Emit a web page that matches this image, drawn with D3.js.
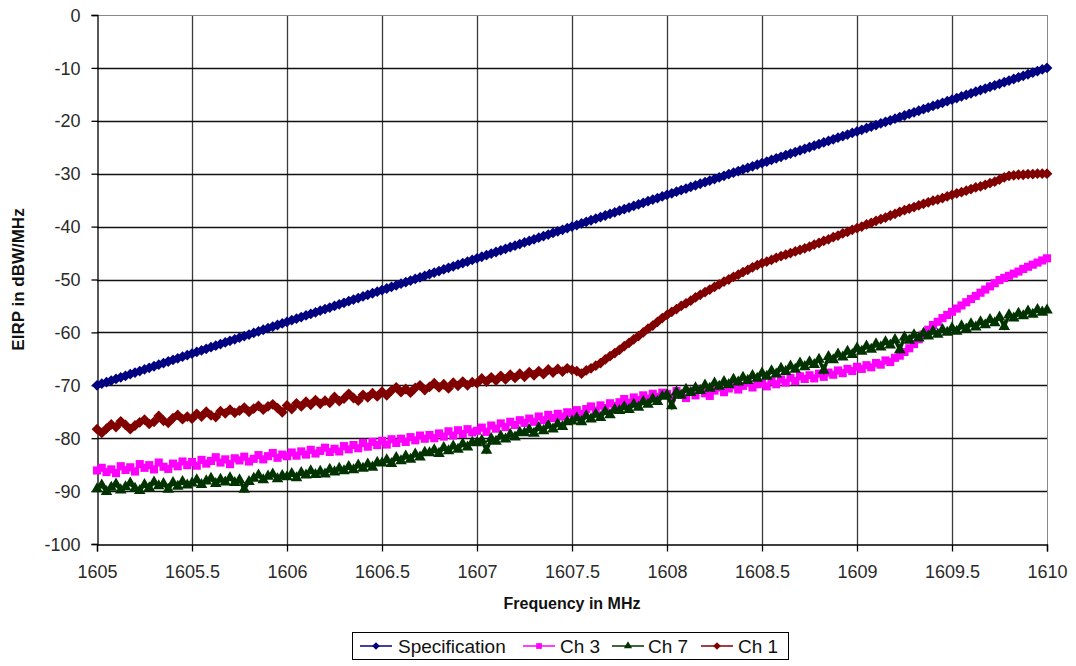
<!DOCTYPE html>
<html><head><meta charset="utf-8">
<script src="https://cdn.jsdelivr.net/npm/d3@7"></script>
<style>
html,body{margin:0;padding:0;background:#fff;}
svg{display:block;}
text{font-family:"Liberation Sans",Arial,sans-serif;}
</style></head>
<body><svg id="c" width="1076" height="666"></svg>
<script>
// ---- data ----
const freqStart = 1605, freqEnd = 1610, nPoints = 201;
const xTicks = [1605, 1605.5, 1606, 1606.5, 1607, 1607.5, 1608, 1608.5, 1609, 1609.5, 1610];
const xTickLabels = ["1605","1605.5","1606","1606.5","1607","1607.5","1608","1608.5","1609","1609.5","1610"];
const yTicks = [0,-10,-20,-30,-40,-50,-60,-70,-80,-90,-100];
const yTickLabels = ["0","-10","-20","-30","-40","-50","-60","-70","-80","-90","-100"];
const seriesNames = ["Specification","Ch 3","Ch 7","Ch 1"];

const specValues = [
-70,-69.7,-69.4,-69.1,-68.8,-68.5,-68.2,-67.9,-67.6,-67.3,
-67,-66.7,-66.4,-66.1,-65.8,-65.5,-65.2,-64.9,-64.6,-64.3,
-64,-63.7,-63.4,-63.1,-62.8,-62.5,-62.2,-61.9,-61.6,-61.3,
-61,-60.7,-60.4,-60.1,-59.8,-59.5,-59.2,-58.9,-58.6,-58.3,
-58,-57.7,-57.4,-57.1,-56.8,-56.5,-56.2,-55.9,-55.6,-55.3,
-55,-54.7,-54.4,-54.1,-53.8,-53.5,-53.2,-52.9,-52.6,-52.3,
-52,-51.7,-51.4,-51.1,-50.8,-50.5,-50.2,-49.9,-49.6,-49.3,
-49,-48.7,-48.4,-48.1,-47.8,-47.5,-47.2,-46.9,-46.6,-46.3,
-46,-45.7,-45.4,-45.1,-44.8,-44.5,-44.2,-43.9,-43.6,-43.3,
-43,-42.7,-42.4,-42.1,-41.8,-41.5,-41.2,-40.9,-40.6,-40.3,
-40,-39.7,-39.4,-39.1,-38.8,-38.5,-38.2,-37.9,-37.6,-37.3,
-37,-36.7,-36.4,-36.1,-35.8,-35.5,-35.2,-34.9,-34.6,-34.3,
-34,-33.7,-33.4,-33.1,-32.8,-32.5,-32.2,-31.9,-31.6,-31.3,
-31,-30.7,-30.4,-30.1,-29.8,-29.5,-29.2,-28.9,-28.6,-28.3,
-28,-27.7,-27.4,-27.1,-26.8,-26.5,-26.2,-25.9,-25.6,-25.3,
-25,-24.7,-24.4,-24.1,-23.8,-23.5,-23.2,-22.9,-22.6,-22.3,
-22,-21.7,-21.4,-21.1,-20.8,-20.5,-20.2,-19.9,-19.6,-19.3,
-19,-18.7,-18.4,-18.1,-17.8,-17.5,-17.2,-16.9,-16.6,-16.3,
-16,-15.7,-15.4,-15.1,-14.8,-14.5,-14.2,-13.9,-13.6,-13.3,
-13,-12.7,-12.4,-12.1,-11.8,-11.5,-11.2,-10.9,-10.6,-10.3,
-10];

const ch3Values = [
-86.1,-85.6,-86.4,-85.9,-86.6,-85.3,-86.0,-85.5,-86.3,-84.9,
-85.6,-85.1,-85.9,-84.6,-85.4,-85.8,-84.8,-85.3,-84.4,-85.1,
-84.5,-85.2,-84.1,-84.8,-84.3,-83.6,-84.6,-84.0,-84.9,-83.8,
-84.2,-83.5,-84.4,-83.9,-83.2,-84.0,-83.4,-82.8,-83.7,-83.1,
-83.4,-82.7,-83.3,-82.5,-83.1,-82.2,-82.9,-82.4,-81.8,-82.6,
-82.0,-82.5,-81.5,-82.1,-81.3,-81.9,-80.9,-81.6,-80.7,-81.3,
-80.5,-81.2,-80.2,-80.9,-80.1,-80.7,-79.8,-80.4,-79.5,-80.1,
-79.4,-80.0,-79.1,-79.7,-78.7,-79.5,-78.5,-79.2,-78.3,-78.9,
-78.6,-78.0,-78.8,-77.6,-78.2,-77.2,-77.9,-76.9,-77.5,-76.6,
-77.1,-76.3,-76.9,-75.9,-76.6,-75.6,-76.2,-75.4,-75.9,-75.1,
-75.3,-74.7,-75.4,-74.5,-74.0,-74.8,-73.8,-74.3,-73.4,-73.9,
-73.2,-72.6,-73.3,-72.3,-72.8,-71.9,-72.5,-71.6,-72.2,-71.4,
-71.6,-72.3,-71.1,-71.8,-72.4,-71.2,-71.9,-70.8,-71.5,-72.0,
-71.0,-70.4,-71.3,-70.6,-70.0,-70.8,-70.1,-69.5,-70.4,-69.8,
-69.6,-70.2,-69.2,-69.8,-68.9,-69.5,-68.6,-69.2,-68.3,-68.8,
-68.1,-68.7,-67.8,-68.4,-67.6,-68.0,-67.2,-67.7,-66.9,-67.3,
-66.5,-66.9,-66.2,-66.6,-65.8,-66.1,-65.3,-65.6,-64.8,-64.4,
-63.7,-63.0,-62.2,-61.3,-60.4,-59.5,-58.6,-58.0,-57.3,-56.7,
-56.1,-55.5,-54.9,-54.3,-53.7,-53.1,-52.5,-51.9,-51.3,-50.7,
-50.1,-49.7,-49.3,-48.9,-48.5,-48.0,-47.6,-47.2,-46.8,-46.4,
-46.0];

const ch7Values = [
-89.6,-88.9,-90.1,-89.3,-88.7,-89.8,-89.2,-88.5,-89.5,-89.9,
-88.8,-89.4,-88.3,-89.0,-88.6,-89.7,-88.4,-89.1,-88.2,-88.9,
-88.5,-87.9,-88.8,-88.1,-87.6,-88.6,-87.8,-88.3,-87.5,-88.4,
-87.9,-89.7,-88.2,-87.6,-87.0,-87.9,-87.2,-86.8,-87.7,-87.1,
-87.3,-86.7,-87.5,-86.5,-87.0,-86.2,-86.9,-86.3,-86.8,-85.9,
-86.4,-85.7,-86.2,-85.4,-86.0,-85.1,-85.7,-84.9,-85.5,-84.6,
-84.7,-84.1,-84.8,-83.7,-84.3,-83.4,-84.0,-83.0,-83.6,-82.7,
-82.8,-82.2,-82.9,-81.8,-82.4,-81.5,-82.1,-81.1,-81.7,-80.8,
-80.9,-80.4,-82.3,-80.1,-80.6,-79.6,-80.2,-79.3,-79.8,-78.9,
-79.0,-78.4,-79.1,-78.0,-78.6,-77.6,-78.3,-77.3,-77.8,-76.9,
-76.8,-76.2,-76.9,-75.8,-76.4,-75.5,-76.1,-75.0,-75.6,-74.6,
-74.8,-74.1,-74.6,-73.6,-74.2,-73.1,-73.6,-72.6,-73.1,-72.1,
-71.8,-73.9,-71.3,-71.9,-70.8,-71.4,-70.5,-71.0,-70.0,-70.6,
-69.6,-70.2,-69.3,-69.9,-68.9,-69.4,-68.5,-69.1,-68.2,-68.7,
-67.7,-68.3,-67.3,-67.9,-66.8,-67.4,-66.4,-67.0,-65.8,-66.5,
-65.6,-66.1,-65.1,-67.2,-64.6,-65.2,-64.1,-64.7,-63.6,-64.2,
-63.0,-63.6,-62.6,-63.2,-62.2,-62.8,-61.8,-62.4,-61.4,-63.3,
-60.9,-61.5,-60.5,-61.1,-60.2,-60.7,-59.8,-60.4,-59.5,-60.0,
-59.2,-59.8,-58.8,-59.4,-58.4,-59.0,-58.0,-58.6,-57.6,-58.2,
-57.1,-58.9,-56.7,-57.3,-56.4,-56.9,-56.0,-56.6,-55.7,-56.2,
-55.8];

const ch1Values = [
-78.3,-79.0,-78.2,-77.4,-77.9,-76.8,-77.5,-78.3,-77.6,-77.0,
-76.5,-77.3,-76.9,-75.8,-76.7,-77.1,-76.2,-75.6,-76.4,-75.9,
-76.3,-75.4,-75.9,-75.0,-75.7,-76.0,-74.9,-75.3,-74.6,-75.2,
-74.8,-74.2,-75.0,-74.4,-73.9,-74.6,-74.0,-73.6,-74.3,-75.1,
-73.8,-74.5,-73.4,-74.0,-73.1,-73.7,-72.8,-73.5,-72.9,-73.3,
-72.2,-73.0,-72.5,-71.6,-72.4,-72.9,-71.8,-72.3,-71.5,-72.1,
-71.2,-71.9,-71.0,-70.4,-71.3,-70.7,-71.4,-70.5,-70.0,-70.9,
-70.3,-69.6,-70.4,-69.8,-70.6,-69.5,-70.1,-69.3,-70.0,-69.4,
-69.6,-68.7,-69.3,-68.5,-69.1,-68.2,-68.9,-68.0,-68.6,-67.8,
-68.4,-67.5,-68.1,-67.3,-67.9,-67.0,-67.6,-66.9,-67.4,-66.8,
-67.1,-67.3,-67.8,-67.2,-66.8,-66.3,-65.8,-65.1,-64.5,-63.9,
-63.3,-62.6,-62.0,-61.3,-60.7,-60.0,-59.3,-58.7,-58.0,-57.3,
-56.7,-56.1,-55.6,-55.0,-54.5,-54.0,-53.4,-52.9,-52.4,-51.9,
-51.4,-50.9,-50.4,-50.0,-49.5,-49.1,-48.6,-48.2,-47.7,-47.3,
-46.9,-46.6,-46.3,-45.9,-45.6,-45.3,-45.0,-44.7,-44.4,-44.1,
-43.8,-43.4,-43.1,-42.7,-42.4,-42.0,-41.7,-41.3,-41.0,-40.6,
-40.3,-40.0,-39.6,-39.3,-38.9,-38.6,-38.3,-37.9,-37.6,-37.2,
-36.9,-36.6,-36.3,-36.0,-35.7,-35.4,-35.1,-34.9,-34.6,-34.3,
-34.0,-33.7,-33.5,-33.2,-32.9,-32.6,-32.4,-32.1,-31.8,-31.5,
-31.1,-30.7,-30.4,-30.3,-30.2,-30.2,-30.1,-30.1,-30.0,-30.0,
-30.0];

// ---- layout / style ----
const plot = {left: 97, right: 1047, top: 15, bottom: 544};
const frequencies = d3.range(nPoints).map(i => freqStart + i * (freqEnd - freqStart) / (nPoints - 1));

const series = [
  {name: seriesNames[0], values: specValues, color: "#000080", symbol: "diamond"},
  {name: seriesNames[1], values: ch3Values,  color: "#FF00FF", symbol: "square"},
  {name: seriesNames[2], values: ch7Values,  color: "#003300", symbol: "triangle"},
  {name: seriesNames[3], values: ch1Values,  color: "#800000", symbol: "diamond"}
];

const svg = d3.select("#c");
const x = d3.scaleLinear().domain([freqStart, freqEnd]).range([plot.left, plot.right]);
const y = d3.scaleLinear().domain([-100, 0]).range([plot.bottom, plot.top]);

// gridlines
const g = svg.append("g");
g.selectAll(".vg").data(xTicks.slice(1, -1)).enter().append("line")
  .attr("x1", d => Math.round(x(d)) + 0.5).attr("x2", d => Math.round(x(d)) + 0.5)
  .attr("y1", plot.top).attr("y2", plot.bottom)
  .attr("stroke", "#3a3a3a").attr("stroke-width", 1.3);
g.selectAll(".hg").data(yTicks.slice(1, -1)).enter().append("line")
  .attr("x1", plot.left).attr("x2", plot.right)
  .attr("y1", d => Math.round(y(d)) + 0.5).attr("y2", d => Math.round(y(d)) + 0.5)
  .attr("stroke", "#111").attr("stroke-width", 1.3);
g.append("line").attr("x1", plot.left).attr("x2", plot.right).attr("y1", plot.top + 0.5).attr("y2", plot.top + 0.5)
  .attr("stroke", "#888").attr("stroke-width", 1);
g.append("line").attr("x1", plot.right + 0.5).attr("x2", plot.right + 0.5).attr("y1", plot.top).attr("y2", plot.bottom)
  .attr("stroke", "#888").attr("stroke-width", 1);

// axes
const xAxis = d3.axisBottom(x).tickValues(xTicks).tickFormat((d, i) => xTickLabels[i]).tickSize(7).tickPadding(14);
const yAxis = d3.axisLeft(y).tickValues(yTicks).tickFormat((d, i) => yTickLabels[i]).tickSize(6).tickPadding(11);
const gx = svg.append("g").attr("transform", `translate(0,${plot.bottom + 0.5})`).call(xAxis);
const gy = svg.append("g").attr("transform", `translate(${plot.left + 0.5},0)`).call(yAxis);
[gx, gy].forEach(a => {
  a.select(".domain").attr("stroke", "#000").attr("stroke-width", 1.3);
  a.selectAll(".tick line").attr("stroke", "#000").attr("stroke-width", 1.3);
  a.selectAll(".tick text").attr("fill", "#2a2a2a").style("font-size", "18px")
    .style("font-family", '"Liberation Sans", Arial, sans-serif');
});
gy.selectAll(".tick text").attr("dy", "0.34em");

// markers
function symPath(type, s) {
  if (type === "triangle") return d3.symbol(d3.symbolTriangle, s)();
  return d3.symbol(d3.symbolSquare, s)();
}
const symSize = {diamond: 58, square: 66, triangle: 58};
const line = d3.line().x((d, i) => x(frequencies[i])).y(d => y(d));

series.forEach(s => {
  const sg = svg.append("g");
  sg.append("path").datum(s.values).attr("d", line)
    .attr("fill", "none").attr("stroke", s.color).attr("stroke-width", 3.5);
  sg.selectAll("path.m").data(s.values).enter().append("path").attr("class", "m")
    .attr("d", symPath(s.symbol, symSize[s.symbol]))
    .attr("transform", (d, i) => `translate(${x(frequencies[i])},${y(d)})` + (s.symbol === "diamond" ? " rotate(45)" : ""))
    .attr("fill", s.color).attr("stroke", "none");
});

// axis titles
svg.append("text").attr("x", (plot.left + plot.right) / 2).attr("y", 609)
  .attr("text-anchor", "middle").style("font-size", "16px").style("font-weight", "bold").attr("fill", "#111")
  .text("Frequency in MHz");
svg.append("text").attr("transform", `translate(24,${(plot.top + plot.bottom) / 2}) rotate(-90)`)
  .attr("text-anchor", "middle").style("font-size", "17px").style("font-weight", "bold").attr("fill", "#111")
  .text("EIRP in dBW/MHz");

// legend
const legend = {x: 352, y: 632, w: 436, h: 27};
svg.append("rect").attr("x", legend.x + 0.5).attr("y", legend.y + 0.5).attr("width", legend.w).attr("height", legend.h)
  .attr("fill", "#fff").attr("stroke", "#000").attr("stroke-width", 1);
const legendItems = [
  {lineX: 360, textX: 398},
  {lineX: 523, textX: 560},
  {lineX: 612, textX: 648},
  {lineX: 701, textX: 738}
];
series.forEach((s, i) => {
  const it = legendItems[i];
  const cy = legend.y + legend.h / 2 + 0.5;
  svg.append("line").attr("x1", it.lineX).attr("x2", it.lineX + 32).attr("y1", cy).attr("y2", cy)
    .attr("stroke", s.color).attr("stroke-width", 1.5);
  svg.append("path").attr("d", symPath(s.symbol, symSize[s.symbol] * 0.5))
    .attr("transform", `translate(${it.lineX + 16},${cy})` + (s.symbol === "diamond" ? " rotate(45)" : ""))
    .attr("fill", s.color);
  svg.append("text").attr("x", it.textX).attr("y", cy).attr("dy", "0.35em")
    .style("font-size", "19px").attr("fill", "#111").text(s.name);
});
</script>
</body></html>
